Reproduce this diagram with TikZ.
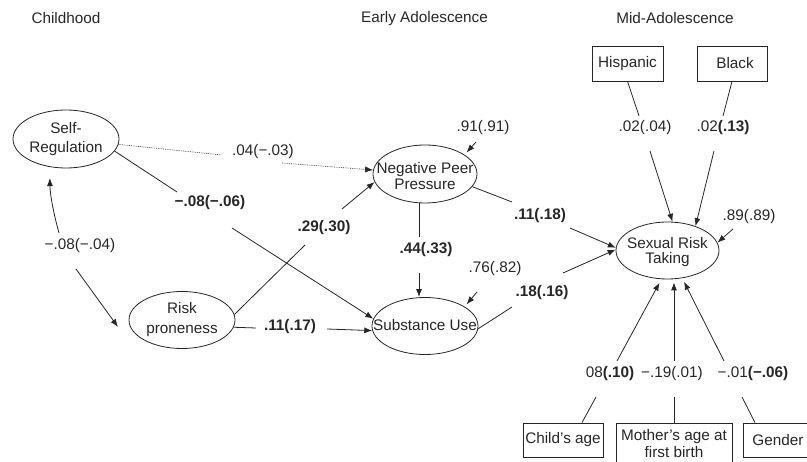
\documentclass[tikz,border=0pt]{standalone}
\usepackage{fontspec}
\setmainfont{Liberation Sans}
\usetikzlibrary{shapes.geometric,arrows.meta,calc}
\begin{document}
\begin{tikzpicture}[x=1pt,y=-1pt,
  every node/.style={font=\fontsize{15.3}{17}\selectfont, text=black!85},
  latent/.style={draw=black!85, ellipse, line width=0.8pt, inner sep=0pt},
  obs/.style={draw=black!85, rectangle, line width=0.8pt, inner sep=0pt, align=center},
  intext/.style={align=center, inner sep=0pt},
  lab/.style={inner sep=1pt},
  path/.style={draw=black!85, line width=0.8pt},
  arr/.style={path, -{Latex[length=8pt,width=6pt]}},
]
\useasboundingbox (0,0) rectangle (807,462);
\clip (0,0) rectangle (807,462);

% titles
\node (t1) at (66,18) {Childhood};
\node (t2) at (424.5,19) {Early Adolescence};
\node (t3) at (675,18) {Mid-Adolescence};

% latent variables
\node[latent, minimum width=106pt, minimum height=58pt] (sr) at (66,139) {};
\node[intext, font=\fontsize{15.3}{19.5}\selectfont] (srT) at (66,139) {Self-\\Regulation};
\node[latent, minimum width=106pt, minimum height=57pt] (rp) at (182,320) {};
\node[intext, font=\fontsize{15.3}{20}\selectfont] (rpT) at (182,320) {Risk\\proneness};
\node[latent, minimum width=104pt, minimum height=58pt] (npp) at (425,174) {};
\node[intext, font=\fontsize{15.3}{16}\selectfont] (nppT) at (425,176) {Negative Peer\\Pressure};
\node[latent, minimum width=106pt, minimum height=57pt] (su) at (425,326) {};
\node[intext] (suT) at (425,325) {Substance Use};
\node[latent, minimum width=103pt, minimum height=57pt] (srt) at (667.5,250.5) {};
\node[intext, font=\fontsize{15.3}{15.5}\selectfont] (srtT) at (667.5,252) {Sexual Risk\\Taking};

% observed variables
\node[obs, minimum width=71pt, minimum height=35pt] (hisp) at (627.5,63.5) {Hispanic};
\node[obs, minimum width=70pt, minimum height=35pt] (black) at (732,63.5) {\hspace*{6pt}Black};
\node[obs, minimum width=80pt, minimum height=34pt] (child) at (563,440) {Child's age};
\node[obs, minimum width=116pt, minimum height=52pt] (mother) at (674,449) {};
\node[intext, font=\fontsize{15.3}{17}\selectfont] (motherT) at (674,444) {Mother's age at\\first birth};
\node[obs, minimum width=70pt, minimum height=34pt] (gender) at (778,440) {Gender};

% labels
\node[lab] (l1) at (263,152) {.04(−.03)};
\node[lab] (l2) at (210,203) {\textbf{−.08(−.06)}};
\node[lab] (l3) at (324,228) {\textbf{.29(.30)}};
\node[lab] (l4) at (80,246) {−.08(−.04)};
\node[lab] (l5) at (290,327) {\textbf{.11(.17)}};
\node[lab] (l6) at (483,128) {.91(.91)};
\node[lab] (l7) at (540,216) {\textbf{.11(.18)}};
\node[lab] (l8) at (645,128) {.02(.04)};
\node[lab] (l9) at (723,128) {.02\textbf{(.13)}};
\node[lab] (l10) at (749,217) {.89(.89)};
\node[lab] (l11) at (426,250) {\textbf{.44(.33)}};
\node[lab] (l12) at (495,269) {.76(.82)};
\node[lab] (l13) at (542,293) {\textbf{.18(.16)}};
\node[lab] (l14) at (610,374) {08\textbf{(.10)}};
\node[lab] (l15) at (672,374) {−.19(.01)};
\node[lab] (l16) at (753,374) {−.01\textbf{(−.06)}};

% gap coordinates
\coordinate (a1) at (222,155); \coordinate (a2) at (282,163);
\coordinate (b1) at (177,192); \coordinate (b2) at (232,228);
\coordinate (c1) at (305,245); \coordinate (c2) at (342,209);
\coordinate (d1) at (256,328); \coordinate (d2) at (327,329);
\coordinate (e1) at (59,233);  \coordinate (e2) at (76,269); \coordinate (e3) at (118,327);
\coordinate (f1) at (419,237); \coordinate (f2) at (419,273);
\coordinate (g1) at (512,202); \coordinate (g2) at (570,228);
\coordinate (h1) at (512,307); \coordinate (h2) at (563,273);
\coordinate (i1) at (639,116); \coordinate (i2) at (650,151);
\coordinate (j1) at (723,116); \coordinate (j2) at (714,151);
\coordinate (k1) at (733,229);
\coordinate (m1) at (476,142);
\coordinate (n1) at (477,292);
\coordinate (p1) at (596,397); \coordinate (p2) at (617,361);
\coordinate (q1) at (674,397); \coordinate (q2) at (674,361);
\coordinate (r1) at (742,397); \coordinate (r2) at (724,361);

% connectors
\draw[path, densely dotted, line width=0.6pt] (sr) -- (a1);
\draw[arr, densely dotted, line width=0.6pt] (a2) -- (npp);

\draw[path] (sr.-14) -- (b1);
\draw[arr] (b2) -- (su.172);

\draw[path] (rp.6) -- (c1);
\draw[arr] (c2) -- (npp.189);

\draw[path] (rp.-8) -- (d1);
\draw[arr] (d2) -- (su.185);

\draw[arr, shorten >=11pt] (e1) .. controls (54,215) and (50,195) .. (sr.240);
\draw[arr] (e2) -- (e3);

\draw[path] (npp.south -| f1) -- (f1);
\draw[arr] (f2) -- (su.north -| f2);

\draw[path] (npp.-15) -- (g1);
\draw[arr] (g2) -- (srt.177);

\draw[path] (su.-3) -- (h1);
\draw[arr] (h2) -- (srt.179);

\draw[path] (hisp.south) -- (i1);
\draw[arr] (i2) -- (srt.80);

\draw[path] (black.south) -- (j1);
\draw[arr] (j2) -- (srt.41);

\draw[arr] (k1) -- (srt.9);
\draw[arr, shorten >=3pt] (m1) -- (npp.26);
\draw[arr, shorten >=3pt] (n1) -- (su.26);

\draw[path] ($(child.north)+(19,0)$) -- (p1);
\draw[arr, shorten >=4pt] (p2) -- (srt.258);

\draw[path] (mother.north) -- (q1);
\draw[arr, shorten >=3pt] (q2) -- (srt.south -| q2);

\draw[path] ($(gender.north)+(-23,0)$) -- (r1);
\draw[arr, shorten >=4pt] (r2) -- (srt.-62);
\end{tikzpicture}
\end{document}
